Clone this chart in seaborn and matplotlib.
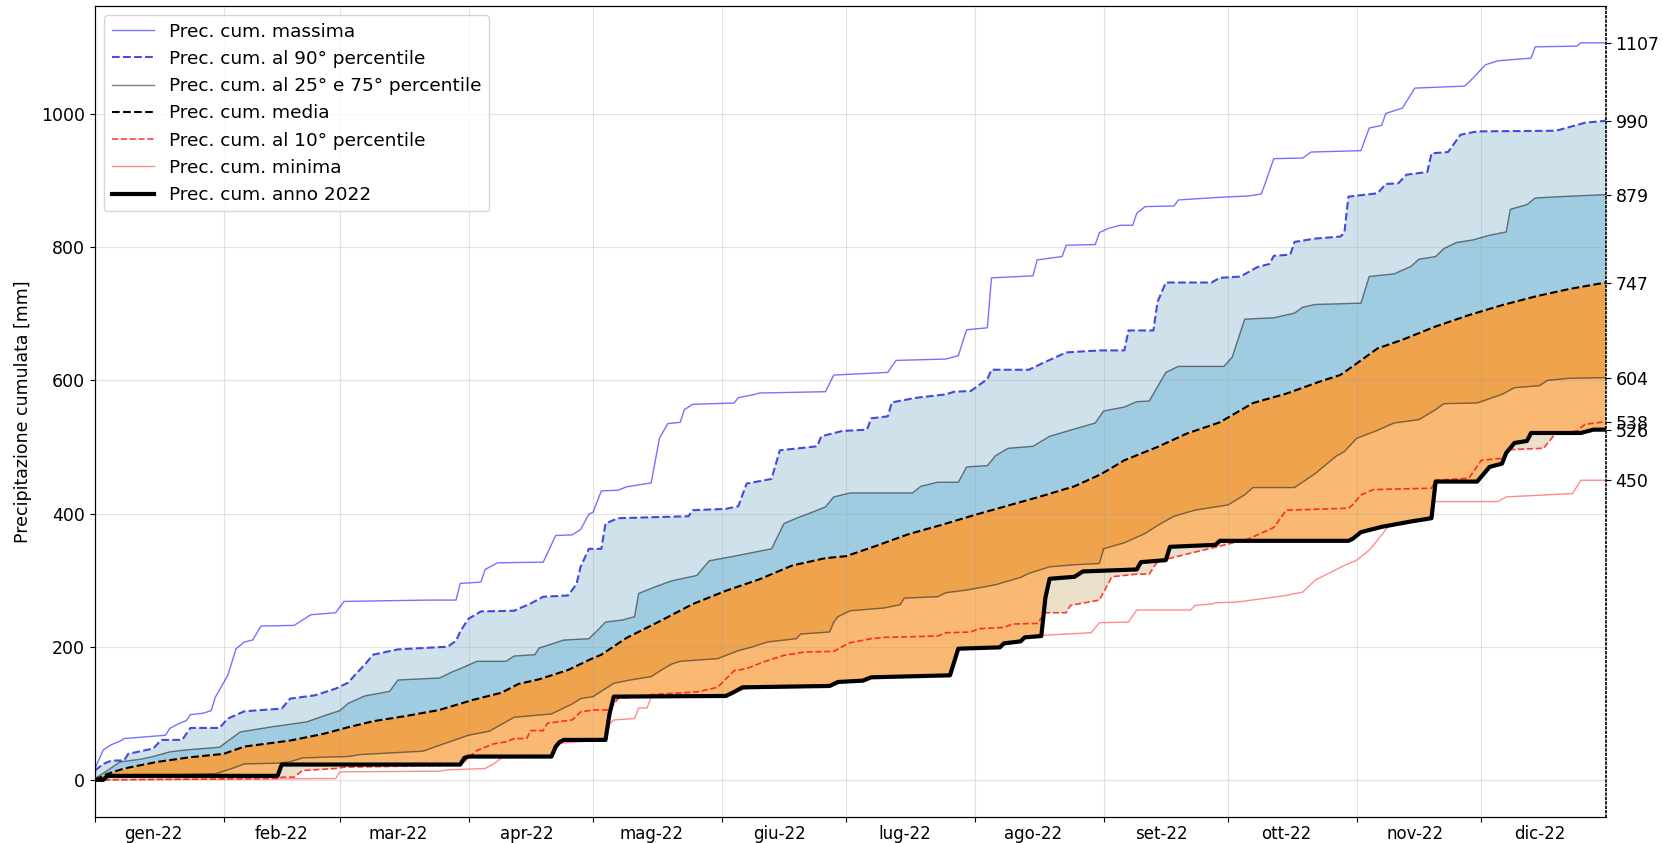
import numpy as np
import pandas as pd
import matplotlib
matplotlib.use('Agg')
import matplotlib.pyplot as plt
import seaborn as sns

# (day of year, 0 = 1 gen) -> cumulative precipitation [mm]
max_pts = [(0, 17), (2, 45), (4, 53), (6, 58), (7, 62), (13, 65), (17, 67), (18, 77), (20, 84), (22, 89),
           (23, 98), (26, 100), (28, 104), (29, 124), (32, 157), (34, 197), (36, 207), (38, 210), (40, 231),
           (48, 232), (50, 240), (52, 248), (58, 251), (60, 268), (80, 270), (87, 270), (88, 295), (93, 297),
           (94, 316), (97, 326), (108, 327), (111, 367), (115, 368), (117, 376), (119, 399), (120, 402),
           (122, 434), (126, 435), (128, 440), (134, 446), (136, 513), (138, 535), (141, 537), (142, 556),
           (144, 564), (154, 566), (155, 574), (159, 579), (160, 581), (176, 583), (178, 608), (191, 612),
           (193, 630), (205, 632), (208, 637), (210, 676), (215, 679), (216, 754), (226, 757), (227, 781),
           (233, 786), (234, 803), (241, 804), (242, 822), (244, 828), (247, 833), (250, 833), (251, 851),
           (253, 861), (260, 862), (261, 871), (271, 875), (278, 877), (281, 880), (282, 897), (284, 933),
           (291, 934), (293, 943), (305, 945), (307, 979), (310, 983), (311, 1001), (315, 1009), (318, 1039),
           (330, 1042), (332, 1054), (335, 1074), (338, 1080), (346, 1084), (347, 1101), (357, 1102),
           (358, 1107), (364, 1107)]
p90_pts = [(0, 14), (2, 24), (4, 29), (7, 29), (8, 39), (11, 43), (14, 47), (16, 60), (21, 60), (23, 78),
           (30, 78), (32, 92), (36, 103), (45, 107), (47, 122), (53, 127), (58, 137), (61, 146), (63, 160),
           (65, 173), (67, 188), (73, 196), (85, 200), (87, 209), (88, 223), (90, 242), (93, 253), (101, 254),
           (105, 265), (108, 275), (114, 277), (116, 294), (117, 320), (119, 347), (122, 347), (123, 385),
           (126, 393), (143, 396), (144, 405), (152, 407), (155, 411), (157, 445), (163, 452), (165, 495),
           (174, 501), (175, 516), (180, 524), (186, 526), (187, 543), (191, 546), (192, 567), (198, 574),
           (205, 579), (207, 583), (211, 584), (215, 602), (216, 616), (225, 616), (228, 625), (234, 642),
           (242, 645), (248, 645), (249, 675), (255, 675), (256, 718), (258, 747), (269, 747), (271, 754),
           (276, 756), (280, 770), (283, 775), (284, 787), (288, 789), (289, 808), (294, 813), (300, 816),
           (301, 821), (302, 876), (309, 881), (311, 895), (314, 896), (316, 909), (321, 913), (322, 941),
           (326, 943), (329, 969), (333, 974), (352, 975), (359, 987), (364, 990)]
p75_pts = [(0, 2), (3, 14), (6, 27), (11, 31), (14, 35), (18, 42), (22, 45), (30, 49), (35, 72), (43, 80),
           (51, 87), (56, 98), (59, 104), (61, 115), (65, 126), (71, 133), (73, 150), (83, 153), (86, 162),
           (88, 167), (92, 178), (99, 178), (101, 186), (106, 188), (107, 198), (113, 210), (119, 212),
           (121, 224), (123, 237), (127, 240), (130, 245), (131, 280), (135, 290), (139, 299), (145, 307),
           (148, 329), (154, 336), (163, 347), (166, 385), (169, 393), (172, 400), (176, 410), (178, 425),
           (182, 431), (197, 431), (199, 441), (203, 447), (208, 447), (210, 470), (215, 472), (217, 487),
           (220, 498), (226, 501), (230, 516), (236, 527), (241, 536), (243, 554), (248, 560), (251, 568),
           (254, 569), (258, 612), (261, 621), (272, 621), (274, 635), (277, 692), (284, 694), (289, 701),
           (291, 710), (294, 714), (305, 716), (307, 756), (313, 760), (317, 771), (319, 782), (323, 786),
           (325, 798), (328, 807), (332, 811), (336, 818), (340, 823), (341, 857), (345, 864), (347, 874),
           (353, 876), (364, 879)]
mean_pts = [(0, 0), (3, 9), (7, 17), (15, 27), (23, 34), (31, 39), (36, 50), (47, 59), (55, 69), (61, 79),
            (67, 88), (75, 96), (83, 105), (91, 120), (98, 131), (102, 144), (107, 151), (114, 165),
            (119, 180), (122, 188), (128, 213), (136, 238), (144, 264), (152, 284), (160, 301), (168, 322),
            (176, 333), (181, 336), (188, 351), (196, 369), (204, 383), (212, 398), (220, 412), (228, 426),
            (236, 441), (242, 458), (244, 465), (248, 480), (256, 500), (263, 520), (271, 537), (279, 566),
            (287, 580), (295, 598), (300, 608), (303, 621), (309, 648), (315, 661), (323, 681), (331, 698),
            (339, 713), (347, 726), (355, 737), (364, 747)]
p25_pts = [(0, 0), (3, 4), (15, 7), (29, 9), (33, 17), (36, 24), (44, 25), (47, 27), (50, 33), (61, 35),
           (64, 38), (79, 43), (84, 54), (90, 67), (95, 73), (99, 87), (101, 94), (110, 99), (115, 114),
           (117, 122), (120, 125), (123, 137), (125, 145), (129, 150), (134, 155), (137, 167), (139, 174),
           (141, 178), (150, 182), (155, 194), (158, 199), (162, 207), (169, 212), (170, 219), (177, 222),
           (178, 237), (179, 245), (182, 254), (190, 258), (194, 263), (195, 273), (203, 275), (205, 281),
           (210, 285), (217, 293), (223, 304), (225, 310), (230, 320), (236, 323), (242, 325), (243, 347),
           (248, 356), (253, 370), (256, 382), (260, 396), (265, 405), (273, 413), (277, 428), (279, 439),
           (289, 439), (294, 460), (299, 486), (301, 493), (304, 513), (309, 525), (313, 536), (319, 541),
           (323, 556), (325, 565), (333, 566), (339, 579), (342, 589), (348, 592), (350, 600), (355, 603),
           (364, 604)]
p10_pts = [(0, 0), (44, 2), (45, 4), (48, 4), (50, 14), (58, 17), (60, 19), (88, 22), (90, 33), (92, 44),
           (96, 54), (99, 57), (101, 62), (104, 62), (105, 74), (108, 74), (109, 85), (115, 90), (117, 102),
           (120, 105), (124, 105), (126, 122), (134, 128), (145, 132), (150, 139), (154, 164), (157, 167),
           (161, 177), (166, 187), (171, 192), (178, 193), (180, 200), (182, 206), (187, 212), (190, 214),
           (203, 216), (205, 221), (211, 222), (213, 227), (219, 229), (221, 234), (227, 235), (229, 251),
           (234, 251), (235, 262), (242, 270), (245, 305), (251, 309), (254, 309), (256, 328), (263, 339),
           (271, 351), (278, 362), (284, 379), (287, 405), (302, 408), (303, 413), (305, 428), (308, 436),
           (322, 438), (323, 450), (331, 453), (334, 480), (339, 483), (341, 496), (349, 498), (352, 521),
           (357, 524), (359, 534), (364, 538)]
min_pts = [(0, 0), (58, 2), (59, 12), (83, 13), (85, 15), (94, 17), (96, 24), (98, 33), (110, 35), (112, 55),
           (123, 60), (124, 84), (125, 90), (130, 92), (131, 108), (133, 108), (134, 124), (152, 125),
           (154, 132), (157, 137), (177, 140), (179, 146), (186, 149), (187, 154), (206, 157), (208, 197),
           (218, 199), (219, 205), (223, 208), (224, 214), (228, 217), (240, 221), (242, 236), (249, 237),
           (251, 255), (264, 255), (265, 262), (269, 264), (270, 266), (275, 267), (286, 276), (291, 282),
           (294, 300), (301, 322), (304, 330), (307, 345), (309, 360), (312, 384), (321, 392), (322, 418),
           (338, 418), (340, 425), (356, 430), (358, 450), (364, 450)]
y2022_pts = [(0, 0), (2, 0), (3, 6), (44, 6), (45, 23), (88, 23), (89, 33), (90, 35), (110, 35), (111, 50),
             (112, 57), (113, 60), (123, 60), (124, 100), (125, 125), (152, 126), (154, 132), (156, 139),
             (177, 141), (179, 147), (185, 149), (187, 154), (206, 157), (208, 197), (218, 199), (219, 205),
             (223, 208), (224, 214), (228, 216), (229, 274), (230, 302), (236, 305), (238, 313), (251, 316),
             (252, 327), (258, 330), (259, 350), (270, 353), (271, 359), (302, 359), (303, 362), (305, 372),
             (310, 380), (317, 388), (322, 393), (323, 448), (333, 448), (336, 470), (339, 475), (340, 491),
             (342, 506), (345, 509), (346, 521), (358, 521), (361, 526), (364, 526)]

final_ticks = [1107, 990, 879, 747, 604, 538, 526, 450]
month_labels = ['gen-22', 'feb-22', 'mar-22', 'apr-22', 'mag-22', 'giu-22',
                'lug-22', 'ago-22', 'set-22', 'ott-22', 'nov-22', 'dic-22']


def xy(pts):
    arr = np.array(pts, dtype=float)
    return arr[:, 0], arr[:, 1]


def band(ax, upper, lower, color):
    xu, yu = xy(upper)
    xl, yl = xy(lower)
    ax.fill(np.r_[xu, xl[::-1]], np.r_[yu, yl[::-1]], color=color, lw=0, zorder=1)


def line(ax, pts, **kw):
    x, y = xy(pts)
    sns.lineplot(x=x, y=y, ax=ax, estimator=None, sort=False, **kw)


fig = plt.figure(figsize=(16.63, 8.43), dpi=100)
ax = fig.add_axes([0.0571, 0.0312, 0.9085, 0.9617])

# shaded bands
band(ax, p90_pts, p75_pts, '#cfe2ec')
band(ax, p75_pts, mean_pts, '#a0cce2')
band(ax, mean_pts, p25_pts, '#eea34c')
band(ax, y2022_pts, p10_pts, '#eadfc9')
band(ax, p25_pts, y2022_pts, '#f9b972')

line(ax, max_pts, color='blue', alpha=0.55, lw=1.0, label='Prec. cum. massima')
line(ax, p90_pts, color='#2b2bd6', alpha=0.85, lw=1.5, linestyle='--', label='Prec. cum. al 90° percentile')
line(ax, p75_pts, color='black', alpha=0.5, lw=1.0, label='Prec. cum. al 25° e 75° percentile')
line(ax, p25_pts, color='black', alpha=0.5, lw=1.0)
line(ax, mean_pts, color='black', lw=1.5, linestyle='--', label='Prec. cum. media')
line(ax, p10_pts, color='red', alpha=0.75, lw=1.2, linestyle='--', label='Prec. cum. al 10° percentile')
line(ax, min_pts, color='red', alpha=0.45, lw=1.0, zorder=0.9, label='Prec. cum. minima')
line(ax, y2022_pts, color='black', lw=3, label='Prec. cum. anno 2022')

ax.set_xlim(0, 364)
ax.set_ylim(-55.35, 1162.35)

month_start = (pd.date_range('2022-01-01', periods=12, freq='MS').dayofyear - 1).to_numpy()
ax.set_xticks(month_start)
ax.set_xticklabels([])
ax.set_xticks(month_start + 14, minor=True)
ax.set_xticklabels(month_labels, minor=True, fontsize=12)
ax.tick_params(axis='x', which='minor', length=0, pad=6)
ax.tick_params(axis='y', labelsize=12.5)
ax.set_yticks([0, 200, 400, 600, 800, 1000])
ax.set_xlabel('')
ax.set_ylabel('Precipitazione cumulata [mm]', fontsize=12.5, labelpad=7)
ax.grid(True, which='major', color='#a0a0a0', alpha=0.3, lw=0.8)
ax.set_axisbelow('line')
ax.spines['right'].set_visible(False)

order = ['Prec. cum. massima', 'Prec. cum. al 90° percentile', 'Prec. cum. al 25° e 75° percentile',
         'Prec. cum. media', 'Prec. cum. al 10° percentile', 'Prec. cum. minima', 'Prec. cum. anno 2022']
handles, labels = ax.get_legend_handles_labels()
lookup = dict(zip(labels, handles))
ax.legend([lookup[l] for l in order], order, loc='upper left', fontsize=13.3, handlelength=2.3)

ax2 = ax.twinx()
ax2.set_ylim(ax.get_ylim())
ax2.set_yticks(final_ticks)
ax2.set_yticklabels([str(v) for v in final_ticks], fontsize=12.5)
ax2.spines['right'].set_linestyle(':')
ax2.spines['right'].set_linewidth(1.2)

fig.savefig('out.png', dpi=100)
